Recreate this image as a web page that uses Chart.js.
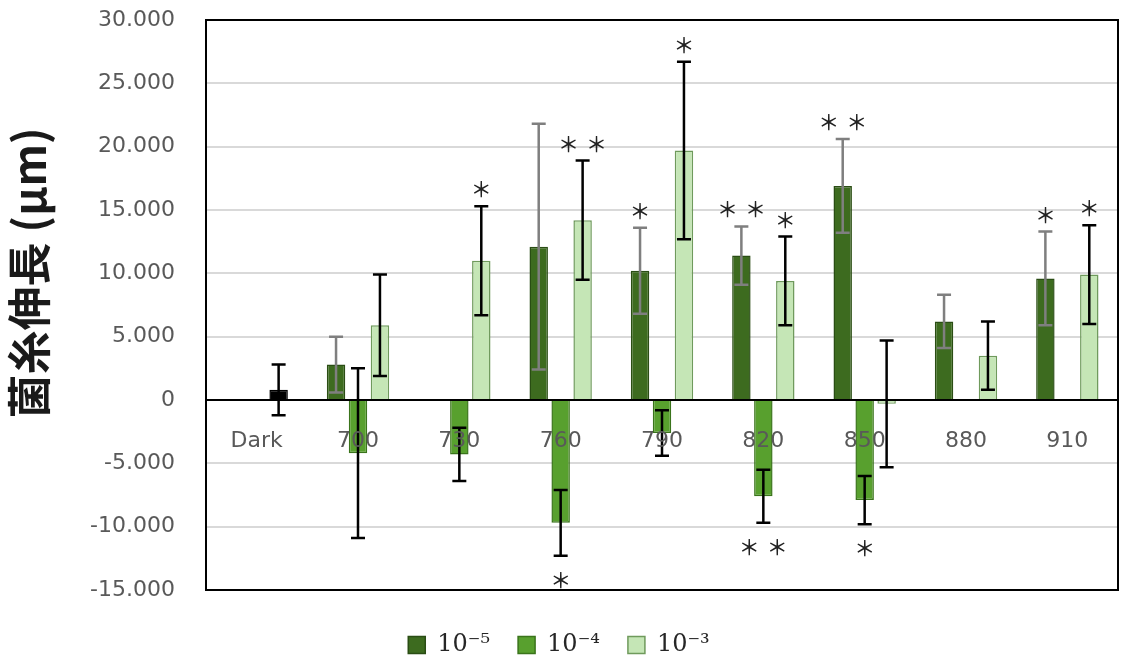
<!DOCTYPE html>
<html>
<head>
<meta charset="utf-8">
<script src="https://cdn.jsdelivr.net/npm/chart.js@4"></script>
<style>
  html, body { margin: 0; padding: 0; background: #fff; }
  #wrap { width: 1123px; height: 667px; }
</style>
</head>
<body>
<div id="wrap"><canvas id="grafico"></canvas></div>
<script>
const categorias = ['Dark', '700', '730', '760', '790', '820', '850', '880', '910'];
const series = ['10⁻⁵', '10⁻⁴', '10⁻³'];

// valores medios (µm)
const valores5 = [null, 2.8, null, 12.1, 10.2, 11.4, 16.9, 6.2, 9.6];
const valores4 = [null, -4.2, -4.3, -9.7, -2.6, -7.6, -7.9, null, null];
const valores3 = [0.8, 5.9, 11.0, 14.2, 19.7, 9.4, -0.3, 3.5, 9.9];

// barras de error (+/-)
const error5 = [null, 2.2, null, 9.7, 3.4, 2.3, 3.7, 2.1, 3.7];
const error4 = [null, 6.7, 2.1, 2.6, 1.8, 2.1, 1.9, null, null];
const error3 = [2.0, 4.0, 4.3, 4.7, 7.0, 3.5, 5.0, 2.7, 3.9];

// asteriscos de significancia
const signif5 = ['', '', '', '', '*', '**', '**', '', '*'];
const signif4 = ['', '', '', '*', '', '**', '*', '', ''];
const signif3 = ['', '', '*', '**', '*', '*', '', '', '*'];

const ticksY = [-15, -10, -5, 0, 5, 10, 15, 20, 25, 30];

const errores = [error5, error4, error3];
const signifs = [signif5, signif4, signif3];
const coloresError = ['#7f7f7f', '#000000', '#000000'];

const colorClaro = '#c5e6b6';

const barrasError = {
    id: 'barrasError',
    afterDatasetsDraw(chart) {
        const ctx = chart.ctx;
        const y = chart.scales.y;
        ctx.save();
        chart.data.datasets.forEach((ds, i) => {
            const meta = chart.getDatasetMeta(i);
            meta.data.forEach((barra, j) => {
                const v = ds.data[j];
                const e = errores[i][j];
                if (v === null || e === null) return;
                const x = barra.x;
                const yArriba = y.getPixelForValue(v + e);
                const yAbajo = y.getPixelForValue(v - e);
                ctx.strokeStyle = coloresError[i];
                ctx.lineWidth = 2.5;
                ctx.beginPath();
                ctx.moveTo(x, yArriba); ctx.lineTo(x, yAbajo);
                ctx.moveTo(x - 7, yArriba); ctx.lineTo(x + 7, yArriba);
                ctx.moveTo(x - 7, yAbajo); ctx.lineTo(x + 7, yAbajo);
                ctx.stroke();

                const s = signifs[i][j];
                if (!s) return;
                ctx.fillStyle = '#222222';
                ctx.font = '500 21px "Noto Sans CJK JP"';
                ctx.textAlign = 'center';
                ctx.textBaseline = 'middle';
                const yEstrella = v >= 0 ? yArriba - 17 : yAbajo + 24;
                if (s.length === 1) {
                    ctx.fillText('＊', x, yEstrella);
                } else {
                    ctx.fillText('＊', x - 14, yEstrella);
                    ctx.fillText('＊', x + 14, yEstrella);
                }
            });
        });
        ctx.restore();
    }
};

const marco = {
    id: 'marco',
    afterDraw(chart) {
        const a = chart.chartArea;
        const ctx = chart.ctx;
        ctx.save();
        ctx.strokeStyle = '#000';
        ctx.lineWidth = 2;
        ctx.strokeRect(a.left, a.top, a.right - a.left, a.bottom - a.top);
        ctx.restore();
    }
};

new Chart(document.getElementById('grafico'), {
    type: 'bar',
    data: {
        labels: categorias,
        datasets: [
            {
                label: series[0],
                data: valores5,
                xAxisID: 'x',
                backgroundColor: '#3d6b1f',
                borderColor: '#2a4d14',
                borderWidth: 1.5
            },
            {
                label: series[1],
                data: valores4,
                xAxisID: 'x',
                backgroundColor: '#58a02e',
                borderColor: '#3a741b',
                borderWidth: 1.5
            },
            {
                label: series[2],
                data: valores3,
                xAxisID: 'x',
                backgroundColor: c => (c.type === 'data' && c.dataIndex === 0) ? '#000000' : colorClaro,
                borderColor: c => (c.type === 'data' && c.dataIndex === 0) ? '#000000' : '#6f9a5c',
                borderWidth: 1.5
            }
        ]
    },
    options: {
        responsive: true,
        maintainAspectRatio: false,
        animation: false,
        categoryPercentage: 0.65,
        barPercentage: 0.84,
        layout: { padding: { top: 20, right: 5, left: 0, bottom: 0 } },
        plugins: {
            legend: {
                position: 'bottom',
                labels: {
                    boxWidth: 17,
                    boxHeight: 17,
                    padding: 28,
                    color: '#262626',
                    font: { family: '"DejaVu Serif"', size: 24 },
                    generateLabels: chart => {
                        const items = Chart.defaults.plugins.legend.labels.generateLabels(chart);
                        items[2].fillStyle = colorClaro;
                        items[2].strokeStyle = '#6f9a5c';
                        return items;
                    }
                }
            },
            tooltip: { enabled: false }
        },
        scales: {
            x: {
                position: { y: 0 },
                grid: { display: false, drawTicks: false },
                border: { color: '#000', width: 2 },
                ticks: {
                    z: 1,
                    color: '#595959',
                    padding: 28,
                    font: { family: '"DejaVu Sans"', size: 22 }
                }
            },
            x2: {
                type: 'category',
                labels: categorias,
                position: 'bottom',
                grid: { display: false, drawTicks: false },
                border: { display: false },
                ticks: { display: false },
                afterFit: s => { s.height = 15; }
            },
            y: {
                min: -15,
                max: 30,
                afterBuildTicks: s => { s.ticks = ticksY.map(v => ({ value: v })); },
                grid: { color: '#d9d9d9', lineWidth: 2, drawTicks: false },
                border: { color: '#000', width: 2 },
                ticks: {
                    color: '#595959',
                    padding: 31,
                    font: { family: '"DejaVu Sans"', size: 22 },
                    callback: v => v === 0 ? '0' : v.toFixed(3)
                },
                title: {
                    display: true,
                    text: '　  菌糸伸長 (μm)',
                    color: '#1a1a1a',
                    font: { family: '"Noto Sans CJK JP"', size: 44, weight: 'bold' },
                    padding: { top: 3, bottom: 4 }
                },
                afterFit: s => {
                    s.width = 206;
                    s.paddingTop = 12;
                    s.paddingBottom = 12;
                }
            }
        }
    },
    plugins: [barrasError, marco]
});
</script>
</body>
</html>
